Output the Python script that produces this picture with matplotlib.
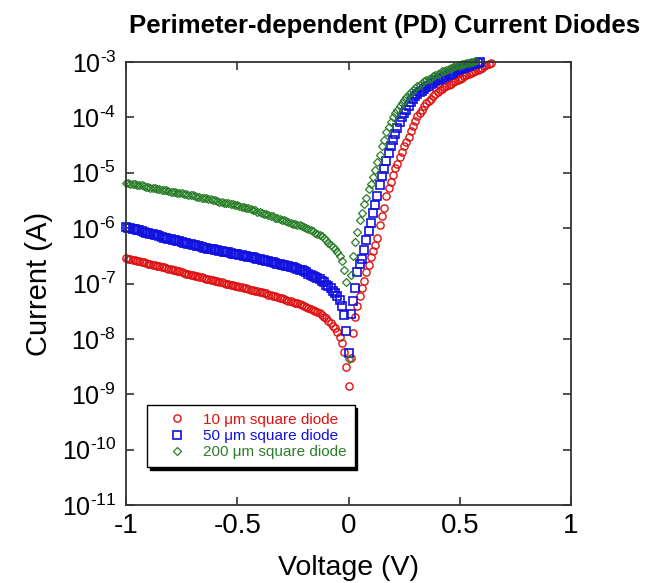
import matplotlib
matplotlib.use("Agg")
import matplotlib.pyplot as plt
import numpy as np

plt.rcParams['font.family'] = ['Liberation Sans', 'DejaVu Sans']
plt.rcParams['mathtext.fontset'] = 'custom'
plt.rcParams['mathtext.rm'] = 'Liberation Sans'
plt.rcParams['mathtext.it'] = 'Liberation Sans'
plt.rcParams['mathtext.bf'] = 'Liberation Sans:bold'

# reverse sweep, 10 mV steps from -1 V to 0 V
v_reverse = [-1.00, -0.99, -0.98, -0.97, -0.96, -0.95, -0.94, -0.93, -0.92, -0.91,
             -0.90, -0.89, -0.88, -0.87, -0.86, -0.85, -0.84, -0.83, -0.82, -0.81,
             -0.80, -0.79, -0.78, -0.77, -0.76, -0.75, -0.74, -0.73, -0.72, -0.71,
             -0.70, -0.69, -0.68, -0.67, -0.66, -0.65, -0.64, -0.63, -0.62, -0.61,
             -0.60, -0.59, -0.58, -0.57, -0.56, -0.55, -0.54, -0.53, -0.52, -0.51,
             -0.50, -0.49, -0.48, -0.47, -0.46, -0.45, -0.44, -0.43, -0.42, -0.41,
             -0.40, -0.39, -0.38, -0.37, -0.36, -0.35, -0.34, -0.33, -0.32, -0.31,
             -0.30, -0.29, -0.28, -0.27, -0.26, -0.25, -0.24, -0.23, -0.22, -0.21,
             -0.20, -0.19, -0.18, -0.17, -0.16, -0.15, -0.14, -0.13, -0.12, -0.11,
             -0.10, -0.09, -0.08, -0.07, -0.06, -0.05, -0.04, -0.03, -0.02, -0.01,
             0.00]
# forward sweep, 10 mV steps until the current reaches ~1 mA
v_forward = [0.01, 0.02, 0.03, 0.04, 0.05, 0.06, 0.07, 0.08, 0.09, 0.10,
             0.11, 0.12, 0.13, 0.14, 0.15, 0.16, 0.17, 0.18, 0.19, 0.20,
             0.21, 0.22, 0.23, 0.24, 0.25, 0.26, 0.27, 0.28, 0.29, 0.30,
             0.31, 0.32, 0.33, 0.34, 0.35, 0.36, 0.37, 0.38, 0.39, 0.40,
             0.41, 0.42, 0.43, 0.44, 0.45, 0.46, 0.47, 0.48, 0.49, 0.50,
             0.51, 0.52, 0.53, 0.54, 0.55, 0.56, 0.57, 0.58, 0.59, 0.60,
             0.61, 0.62, 0.63, 0.64]

# log10 of current (A)
d10_rev = [-6.54, -6.55, -6.56, -6.57, -6.58, -6.59, -6.60, -6.61, -6.62, -6.63,
           -6.64, -6.65, -6.66, -6.67, -6.68, -6.69, -6.70, -6.71, -6.72, -6.73,
           -6.74, -6.75, -6.76, -6.77, -6.78, -6.80, -6.81, -6.82, -6.83, -6.84,
           -6.85, -6.86, -6.87, -6.88, -6.89, -6.90, -6.91, -6.92, -6.93, -6.94,
           -6.95, -6.96, -6.97, -6.98, -6.99, -7.00, -7.01, -7.02, -7.03, -7.04,
           -7.05, -7.06, -7.07, -7.08, -7.09, -7.10, -7.11, -7.12, -7.13, -7.14,
           -7.15, -7.16, -7.17, -7.18, -7.20, -7.21, -7.22, -7.23, -7.25, -7.26,
           -7.27, -7.28, -7.30, -7.31, -7.32, -7.33, -7.35, -7.36, -7.37, -7.38,
           -7.40, -7.42, -7.44, -7.46, -7.48, -7.50, -7.52, -7.54, -7.57, -7.60,
           -7.63, -7.67, -7.71, -7.76, -7.81, -7.88, -7.96, -8.08, -8.24, -8.50,
           -8.85]
d10_fwd = [-8.35, -7.90, -7.60, -7.40, -7.22, -7.08, -6.95, -6.80, -6.66, -6.53,
           -6.42, -6.30, -6.17, -5.95, -5.79, -5.64, -5.42, -5.28, -5.16, -5.04,
           -4.92, -4.84, -4.72, -4.62, -4.52, -4.44, -4.35, -4.25, -4.15, -4.06,
           -3.98, -3.92, -3.86, -3.80, -3.74, -3.70, -3.66, -3.62, -3.58, -3.54,
           -3.51, -3.48, -3.46, -3.44, -3.41, -3.39, -3.36, -3.34, -3.32, -3.30,
           -3.28, -3.26, -3.24, -3.22, -3.20, -3.18, -3.16, -3.14, -3.12, -3.10,
           -3.08, -3.06, -3.04, -3.02]

d50_rev = [-5.98, -5.99, -6.00, -6.01, -6.02, -6.03, -6.04, -6.06, -6.07, -6.08,
           -6.09, -6.10, -6.11, -6.12, -6.13, -6.15, -6.16, -6.17, -6.18, -6.19,
           -6.20, -6.21, -6.22, -6.23, -6.24, -6.25, -6.26, -6.27, -6.28, -6.29,
           -6.30, -6.31, -6.32, -6.33, -6.34, -6.35, -6.36, -6.37, -6.38, -6.38,
           -6.39, -6.40, -6.41, -6.42, -6.43, -6.43, -6.44, -6.45, -6.46, -6.46,
           -6.47, -6.48, -6.49, -6.50, -6.51, -6.52, -6.53, -6.53, -6.54, -6.55,
           -6.56, -6.57, -6.58, -6.59, -6.60, -6.61, -6.62, -6.63, -6.64, -6.65,
           -6.66, -6.67, -6.68, -6.69, -6.70, -6.71, -6.72, -6.73, -6.75, -6.76,
           -6.78, -6.80, -6.82, -6.84, -6.86, -6.88, -6.90, -6.92, -6.95, -6.98,
           -7.02, -7.05, -7.09, -7.13, -7.18, -7.23, -7.30, -7.40, -7.56, -7.85,
           -8.25]
d50_fwd = [-7.55, -7.32, -7.08, -6.80, -6.64, -6.55, -6.40, -6.22, -6.05, -5.90,
           -5.72, -5.58, -5.42, -5.22, -5.05, -4.93, -4.78, -4.64, -4.52, -4.41,
           -4.30, -4.19, -4.09, -4.00, -3.93, -3.86, -3.79, -3.73, -3.67, -3.62,
           -3.58, -3.55, -3.52, -3.49, -3.46, -3.43, -3.40, -3.38, -3.35, -3.33,
           -3.31, -3.29, -3.27, -3.25, -3.23, -3.21, -3.19, -3.17, -3.15, -3.13,
           -3.11, -3.10, -3.09, -3.07, -3.06, -3.04, -3.03, -3.02, -3.00]

d200_rev = [-5.18, -5.19, -5.20, -5.20, -5.21, -5.22, -5.23, -5.23, -5.24, -5.25,
            -5.26, -5.27, -5.28, -5.28, -5.29, -5.30, -5.31, -5.31, -5.32, -5.33,
            -5.34, -5.34, -5.35, -5.36, -5.37, -5.37, -5.38, -5.39, -5.40, -5.40,
            -5.41, -5.42, -5.43, -5.44, -5.45, -5.45, -5.46, -5.47, -5.48, -5.49,
            -5.50, -5.51, -5.52, -5.53, -5.54, -5.54, -5.55, -5.56, -5.57, -5.58,
            -5.59, -5.60, -5.61, -5.62, -5.63, -5.64, -5.66, -5.67, -5.68, -5.70,
            -5.71, -5.72, -5.74, -5.75, -5.76, -5.78, -5.79, -5.81, -5.82, -5.84,
            -5.85, -5.86, -5.88, -5.89, -5.90, -5.92, -5.93, -5.94, -5.95, -5.97,
            -5.98, -6.00, -6.02, -6.04, -6.06, -6.08, -6.10, -6.12, -6.15, -6.18,
            -6.22, -6.26, -6.30, -6.34, -6.38, -6.43, -6.50, -6.60, -6.75, -6.98,
            -8.36]
d200_fwd = [-6.84, -6.50, -6.25, -6.07, -5.85, -5.72, -5.56, -5.45, -5.30, -5.20,
            -5.08, -4.95, -4.80, -4.68, -4.52, -4.40, -4.27, -4.17, -4.08, -4.00,
            -3.93, -3.86, -3.80, -3.74, -3.68, -3.63, -3.58, -3.54, -3.50, -3.47,
            -3.44, -3.41, -3.38, -3.35, -3.32, -3.30, -3.28, -3.25, -3.23, -3.21,
            -3.19, -3.17, -3.16, -3.14, -3.12, -3.11, -3.09, -3.08, -3.06, -3.05,
            -3.04, -3.03, -3.02, -3.01, -3.00, -3.00, -2.99]

labels = ['10 \u03bcm square diode', '50 \u03bcm square diode', '200 \u03bcm square diode']
colors = ['#e01010', '#1010e0', '#2a7f2a']
markers = ['o', 's', 'D']
msizes = [5.2, 5.6, 3.8]
mews = [1.0, 1.2, 0.9]


def sweep(rev, fwd):
    v = np.array(v_reverse + v_forward[:len(fwd)])
    i = 10.0 ** np.array(rev + fwd)
    return v, i


fig = plt.figure(figsize=(6.55, 5.83), dpi=100)
ax = fig.add_axes([126 / 655, 1 - 505 / 583, 445 / 655, 443 / 583])

series = [sweep(d10_rev, d10_fwd), sweep(d50_rev, d50_fwd), sweep(d200_rev, d200_fwd)]
for (v, i), lab, c, m, ms, mw in zip(series, labels, colors, markers, msizes, mews):
    ax.plot(v, i, linestyle='none', marker=m, markersize=ms, markerfacecolor='none',
            markeredgecolor=c, markeredgewidth=mw, label=lab, clip_on=False)

ax.set_yscale('log')
ax.set_xlim(-1, 1)
ax.set_ylim(1e-11, 1e-3)
ax.set_xticks([-1, -0.5, 0, 0.5, 1])
ax.set_xticklabels(['-1', '-0.5', '0', '0.5', '1'], fontsize=20)
yt = [10.0 ** k for k in range(-11, -2)]
ax.set_yticks(yt)
ax.set_yticklabels([r'$10^{\text{-%d}}$' % -k for k in range(-11, -2)], fontsize=18)
ax.yaxis.set_minor_locator(matplotlib.ticker.NullLocator())
ax.tick_params(which='both', direction='in', top=True, right=True, length=6,
               width=1.2, color='#333333')
ax.tick_params(axis='x', pad=6)
ax.tick_params(axis='y', pad=7)
for s in ax.spines.values():
    s.set_linewidth(1.3)
    s.set_color('#333333')

ax.set_xlabel('Voltage (V)', fontsize=20.5, labelpad=11)
ax.set_ylabel('Current (A)', fontsize=21, labelpad=6)

fig.text(385 / 655, 1 - 33 / 583, 'Perimeter-dependent (PD) Current Diodes',
         fontsize=18.5, fontweight='bold', ha='center', va='baseline')

leg = ax.legend(loc='lower left', bbox_to_anchor=(0.047, 0.086), borderaxespad=0,
                fontsize=11, frameon=True, fancybox=False, numpoints=1,
                handlelength=3.0, handletextpad=0.2, borderpad=0.5,
                labelspacing=0.15, shadow={'color': 'black', 'alpha': 1})
leg.get_frame().set_edgecolor('black')
leg.get_frame().set_linewidth(1.0)
for t, c in zip(leg.get_texts(), colors):
    t.set_color(c)

fig.savefig('out.png', dpi=100)
